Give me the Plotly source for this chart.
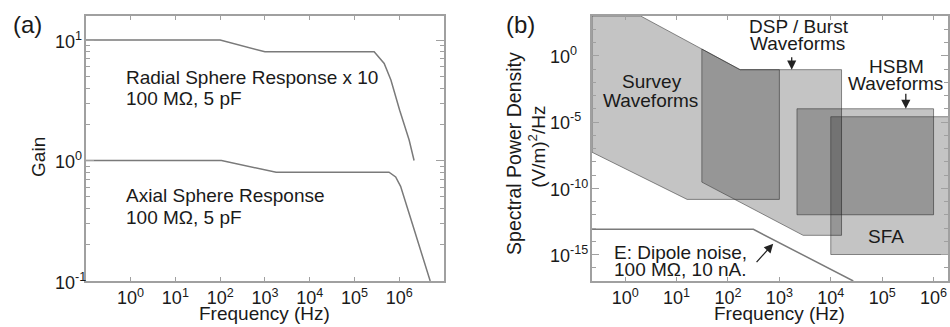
import math
import plotly.graph_objects as go

W, H = 950, 327

# ---------------- Panel (a): gain vs frequency ----------------
freq_radial = [0.1, 100, 1000, 2.75e5, 4.6e5, 6.5e5, 1.02e6, 1.66e6, 2.14e6]
gain_radial = [10, 10, 8.0, 8.0, 6.4, 4.66, 2.62, 1.48, 1.0]

freq_axial = [0.1, 107, 1780, 5.9e5, 8.3e5, 1.07e6, 1.95e6, 4.68e6, 4.9e6]
gain_axial = [1.0, 1.0, 0.8, 0.8, 0.73, 0.61, 0.30, 0.105, 0.1]

a_xticks = [1, 10, 100, 1e3, 1e4, 1e5, 1e6]
a_xtext = ["10<sup>0</sup>", "10<sup>1</sup>", "10<sup>2</sup>", "10<sup>3</sup>",
           "10<sup>4</sup>", "10<sup>5</sup>", "10<sup>6</sup>"]
a_yticks = [0.1, 1, 10]
a_ytext = ["10<sup>-1</sup>", "10<sup>0</sup>", "10<sup>1</sup>"]
a_yminor = [m * d for d in (0.1, 1) for m in range(2, 10)]

# ---------------- Panel (b): spectral power density ----------------
b_fmin = 10 ** -0.645
survey_f = [b_fmin, 2, 172, 1000, 1000, 16, b_fmin, b_fmin]
survey_p = [1e3, 1e3, 0.089, 0.089, 1.44e-11, 1.44e-11, 5.2e-8, 1e3]

dsp_f = [31, 172, 16200, 16200, 2900, 31, 31]
dsp_p = [3.2, 0.089, 0.089, 2.8e-14, 2.8e-14, 2.9e-10, 3.2]

hsbm_f = [2200, 1e6, 1e6, 2200, 2200]
hsbm_p = [1e-4, 1e-4, 1e-12, 1e-12, 1e-4]

sfa_f = [1e4, 4e6, 4e6, 1e4, 1e4]
sfa_p = [2.5e-5, 2.5e-5, 1e-15, 1e-15, 2.5e-5]

noise_f = [b_fmin, 312, 27400]
noise_p = [7.9e-14, 7.9e-14, 1e-17]

b_xticks = a_xticks
b_xtext = a_xtext
b_yticks = [1, 1e-5, 1e-10, 1e-15]
b_ytext = ["10<sup>0</sup>", "10<sup>-5</sup>", "10<sup>-10</sup>", "10<sup>-15</sup>"]
b_yminor = [10.0 ** k for k in range(-17, 4)]

FONT = "Liberation Sans, Arial, Helvetica, sans-serif"
TXT = "#1a1a1a"
FRAME = "#a0a0a0"
CURVE = "#7a7a7a"
FILL = "rgba(0,0,0,0.23)"
EDGE = "rgba(50,50,50,0.55)"
FS = 19

fig = go.Figure()

fig.add_trace(go.Scatter(x=freq_radial, y=gain_radial, mode="lines",
                         line=dict(color=CURVE, width=1.5), xaxis="x", yaxis="y",
                         showlegend=False, hoverinfo="skip"))
fig.add_trace(go.Scatter(x=freq_axial, y=gain_axial, mode="lines",
                         line=dict(color=CURVE, width=1.5), xaxis="x", yaxis="y",
                         showlegend=False, hoverinfo="skip"))

for fx, py in [(survey_f, survey_p), (dsp_f, dsp_p), (hsbm_f, hsbm_p), (sfa_f, sfa_p)]:
    fig.add_trace(go.Scatter(x=fx, y=py, mode="lines", fill="toself", fillcolor=FILL,
                             line=dict(color=EDGE, width=1), xaxis="x2", yaxis="y2",
                             showlegend=False, hoverinfo="skip"))
fig.add_trace(go.Scatter(x=noise_f, y=noise_p, mode="lines",
                         line=dict(color=CURVE, width=1.5), xaxis="x2", yaxis="y2",
                         showlegend=False, hoverinfo="skip"))

ytop = 1 - 16 / H
ybot = 1 - 281 / H

common_x = dict(type="log", showline=True, linecolor=FRAME, linewidth=1.5, mirror="ticks",
                ticks="inside", ticklen=4, tickcolor=FRAME, tickwidth=1, showgrid=False,
                zeroline=False, tickfont=dict(size=18, color=TXT, family=FONT), ticklabelstandoff=0)
common_y = dict(type="log", showline=True, linecolor=FRAME, linewidth=1.5, mirror="ticks",
                ticks="inside", tickcolor=FRAME, tickwidth=1, showgrid=False,
                zeroline=False, showticklabels=False)

fig.update_layout(
    width=W, height=H, autosize=False,
    margin=dict(l=0, r=0, t=0, b=0),
    paper_bgcolor="white", plot_bgcolor="white",
    font=dict(family=FONT, size=FS, color=TXT),
    xaxis=dict(common_x, domain=[86 / W, 445 / W], range=[-1, 7], anchor="y",
               tickmode="array", tickvals=a_xticks, ticktext=a_xtext),
    yaxis=dict(common_y, domain=[ybot, ytop], range=[-1, 1.2], anchor="x",
               tickmode="array", tickvals=a_yticks, ticklen=8,
               minor=dict(tickvals=a_yminor, ticklen=4, ticks="inside", tickcolor=FRAME)),
    xaxis2=dict(common_x, domain=[593.3 / W, 1.0], range=[-0.645, 6.281], anchor="y2",
                tickmode="array", tickvals=b_xticks, ticktext=b_xtext),
    yaxis2=dict(common_y, domain=[ybot, ytop], range=[-17, 3], anchor="x2",
                tickmode="array", tickvals=b_yticks, ticklen=7,
                minor=dict(tickvals=b_yminor, ticklen=4, ticks="inside", tickcolor=FRAME)),
)

ann = []

def px_text(text, x, y, size=FS, xanchor="center", angle=0):
    ann.append(dict(text=text, x=x / W, y=1 - y / H, xref="paper", yref="paper",
                    xanchor=xanchor, yanchor="middle", showarrow=False, textangle=angle,
                    font=dict(size=size, color=TXT, family=FONT)))

# y tick labels (left aligned as in the original)
for v, t in zip(a_yticks, a_ytext):
    ann.append(dict(text=t, x=53 / W, xref="paper", y=math.log10(v), yref="y",
                    xanchor="left", yanchor="middle", showarrow=False,
                    font=dict(size=18, color=TXT, family=FONT)))
for v, t in zip(b_yticks, b_ytext):
    ann.append(dict(text=t, x=549 / W, xref="paper", y=math.log10(v), yref="y2",
                    xanchor="left", yanchor="middle", showarrow=False,
                    font=dict(size=18, color=TXT, family=FONT)))

# panel labels and titles
px_text("(a)", 27.5, 24, size=24)
px_text("(b)", 521.7, 24, size=24)
px_text("Frequency (Hz)", 265, 313)
px_text("Frequency (Hz)", 781, 313)
px_text("Gain", 39, 157, angle=-90)
px_text("Spectral Power Density", 515, 153, size=19.5, angle=-90)
px_text("(V/m)<sup>2</sup>/Hz", 538, 147, angle=-90)

# panel (a) curve labels
px_text("Radial Sphere Response x 10", 124, 77, xanchor="left")
px_text("100 MΩ, 5 pF", 124, 99, xanchor="left")
px_text("Axial Sphere Response", 124, 195, xanchor="left")
px_text("100 MΩ, 5 pF", 124, 217, xanchor="left")

# panel (b) region labels
px_text("DSP / Burst", 801, 26)
px_text("Waveforms", 799, 44)
px_text("HSBM", 898, 66)
px_text("Waveforms", 897, 83)
px_text("Survey", 653, 81)
px_text("Waveforms", 652, 100)
px_text("SFA", 887.5, 236)
px_text("E: Dipole noise,", 613, 253, xanchor="left")
px_text("100 MΩ, 10 nA.", 613, 269, xanchor="left")

# arrows (log coordinates on panel b)
arrows = [
    ((3.24, -1.05), (3.24, 0.0)),
    ((5.46, -4.0), (5.46, -2.76)),
    ((2.88, -14.18), (2.53, -15.69)),
]
for (hx, hy), (tx, ty) in arrows:
    ann.append(dict(x=hx, y=hy, ax=tx, ay=ty, xref="x2", yref="y2", axref="x2", ayref="y2",
                    text="", showarrow=True, arrowhead=2, arrowsize=1.4, arrowwidth=1.3,
                    arrowcolor="#222", standoff=0, startstandoff=0))

fig.update_layout(annotations=ann)
fig.write_html("out.html", config={"displayModeBar": False},
               post_script="document.body.style.margin='0';document.body.style.padding='0';")
